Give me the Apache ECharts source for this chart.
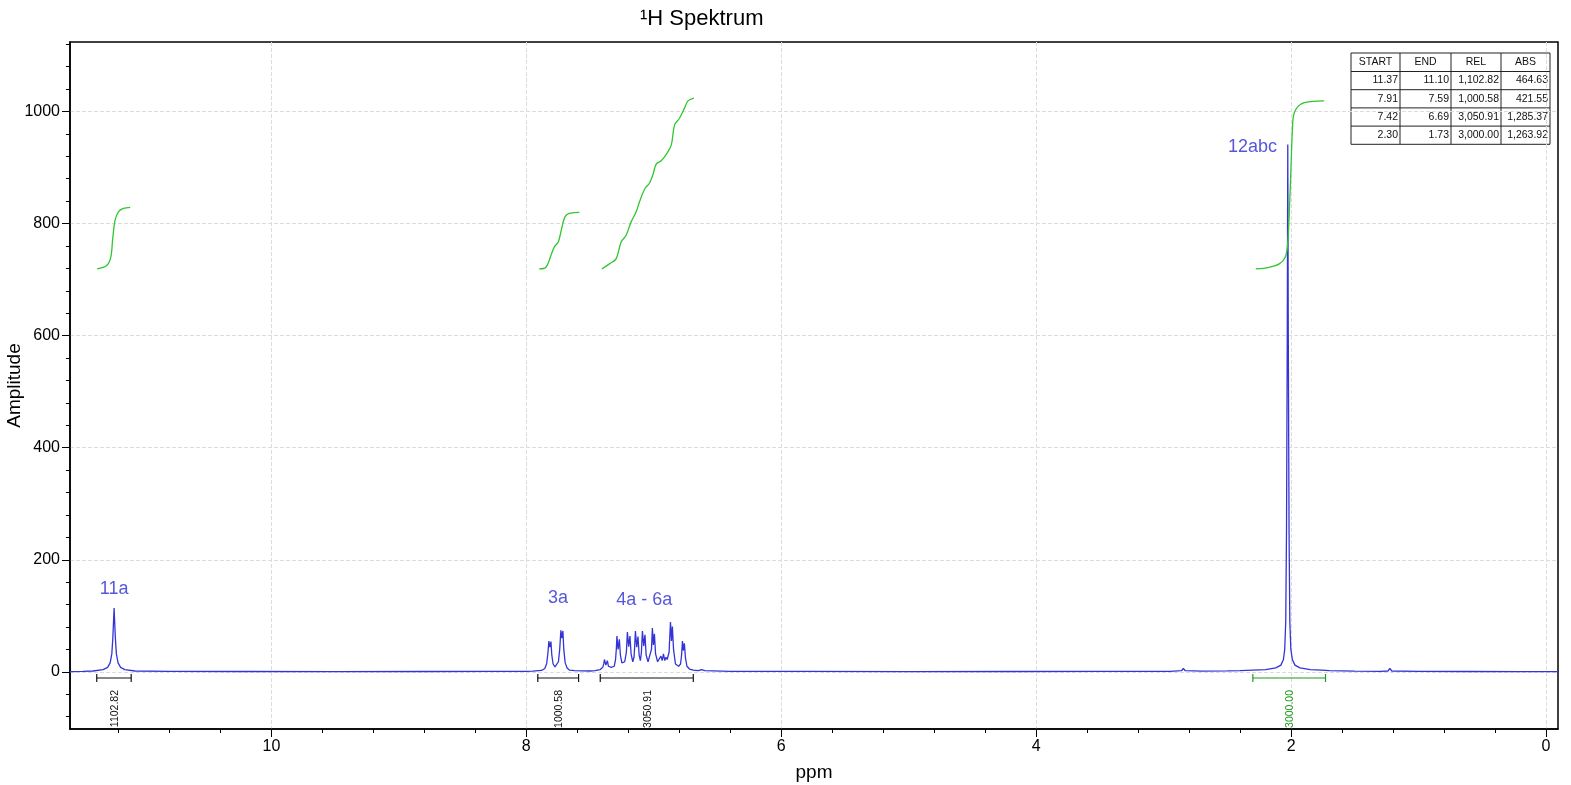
<!DOCTYPE html>
<html>
<head>
<meta charset="utf-8">
<script src="https://cdn.jsdelivr.net/npm/echarts@6/dist/echarts.min.js"></script>
<style>
html,body{margin:0;padding:0;background:#fff;}
#chart{width:1571px;height:785px;}
</style>
</head>
<body>
<div id="chart"></div>
<script>
// ---------------- DATA ----------------
const chartTitle = '\u00B9H Spektrum';
const xName = 'ppm';
const yName = 'Amplitude';

const xTickLabels = [0, 2, 4, 6, 8, 10];
const xMinorTicks = [0, 0.4, 0.8, 1.2, 1.6, 2, 2.4, 2.8, 3.2, 3.6, 4, 4.4, 4.8, 5.2, 5.6, 6, 6.4, 6.8, 7.2, 7.6, 8, 8.4, 8.8, 9.2, 9.6, 10, 10.4, 10.8, 11.2];
const yTickLabels = [0, 200, 400, 600, 800, 1000];
const yMinorTicks = [-80, -40, 0, 40, 80, 120, 160, 200, 240, 280, 320, 360, 400, 440, 480, 520, 560, 600, 640, 680, 720, 760, 800, 840, 880, 920, 960, 1000, 1040, 1080, 1120];

// spectrum [ppm, amplitude]
const spectrum = [
  [11.58, 0.5], [11.48, 1], [11.40, 1.5], [11.32, 4], [11.285, 8], [11.265, 16], [11.252, 32], [11.244, 60],
  [11.234, 114], [11.224, 60], [11.216, 32], [11.203, 16], [11.183, 8], [11.15, 4], [11.07, 1.5],
  [10.8, 1], [10.2, 0.6], [9.5, 0.5], [8.8, 0.6], [8.3, 0.8], [8.0, 1],
  [7.95, 1.2], [7.88, 2.5], [7.855, 6], [7.84, 15], [7.83, 35], [7.823, 55], [7.816, 44], [7.807, 54],
  [7.800, 30], [7.79, 14], [7.775, 9], [7.765, 10], [7.748, 18], [7.738, 40], [7.729, 74], [7.721, 60],
  [7.713, 73], [7.706, 40], [7.695, 16], [7.68, 7], [7.66, 3], [7.62, 2], [7.50, 1.5],
  [7.46, 2], [7.42, 4], [7.40, 8], [7.392, 15], [7.387, 22], [7.376, 12], [7.368, 14], [7.364, 20],
  [7.356, 10], [7.335, 8], [7.31, 10], [7.30, 22], [7.294, 40], [7.289, 64], [7.280, 40], [7.270, 58],
  [7.262, 30], [7.250, 16], [7.228, 18], [7.215, 35], [7.207, 71], [7.197, 45], [7.187, 64], [7.178, 32],
  [7.165, 18], [7.155, 26], [7.150, 45], [7.144, 73], [7.134, 44], [7.124, 63], [7.115, 30], [7.105, 20],
  [7.097, 35], [7.089, 73], [7.079, 46], [7.069, 66], [7.060, 30], [7.045, 18], [7.030, 20], [7.018, 40],
  [7.011, 78], [7.003, 48], [6.995, 68], [6.986, 32], [6.970, 18], [6.955, 18], [6.944, 28], [6.934, 20],
  [6.924, 32], [6.914, 20], [6.905, 26], [6.895, 22], [6.880, 35], [6.869, 89], [6.861, 55], [6.854, 81],
  [6.845, 40], [6.830, 14], [6.805, 10], [6.790, 14], [6.782, 30], [6.775, 55], [6.768, 38], [6.760, 51],
  [6.752, 26], [6.740, 10], [6.72, 5], [6.69, 3], [6.65, 2], [6.625, 4], [6.60, 2], [6.4, 1],
  [5.8, 0.7], [5.0, 0.5], [4.2, 0.6], [3.5, 0.8], [2.95, 1], [2.86, 2], [2.845, 6], [2.83, 2],
  [2.70, 1.2], [2.50, 1.6], [2.40, 2], [2.30, 3], [2.20, 4], [2.12, 7], [2.08, 12], [2.06, 22],
  [2.05, 40], [2.042, 90], [2.036, 250], [2.030, 600], [2.026, 941], [2.022, 600], [2.016, 250], [2.010, 90],
  [2.002, 40], [1.99, 22], [1.97, 12], [1.93, 7], [1.85, 4], [1.76, 3], [1.70, 2], [1.50, 1.2],
  [1.30, 1], [1.24, 1.5], [1.225, 6], [1.21, 1.5], [1.0, 0.8], [0.6, 0.6], [0.2, 0.5], [-0.094, 0.5]
];

// integral curves [ppm, value]
const integral11a = [[11.367, 719], [11.292, 725], [11.260, 740], [11.245, 773], [11.226, 806], [11.200, 821], [11.161, 827], [11.108, 829]];
const integral3a = [[7.899, 719], [7.846, 722], [7.807, 743], [7.781, 758], [7.749, 767], [7.723, 791], [7.697, 812], [7.663, 818], [7.584, 820]];
const integral4a6a = [[7.408, 719], [7.348, 728], [7.296, 737], [7.256, 767], [7.217, 779], [7.178, 803], [7.138, 821], [7.112, 839], [7.068, 863], [7.034, 872], [7.007, 887], [6.981, 906], [6.942, 912], [6.903, 923], [6.863, 940], [6.837, 976], [6.798, 988], [6.759, 1006], [6.732, 1019], [6.685, 1024]];
const integral12abc = [[2.277, 719], [2.172, 722], [2.093, 728], [2.046, 740], [2.028, 761], [2.015, 815], [2.002, 893], [1.989, 970], [1.976, 997], [1.924, 1013], [1.832, 1018], [1.740, 1019]];

// integration brackets [start ppm, end ppm, label]
const brackets = [[11.37, 11.10, '1102.82'], [7.91, 7.59, '1000.58'], [7.42, 6.69, '3050.91'], [2.30, 1.73, '3000.00']];

// peak labels [ppm, amplitude, text]
const peakLabels = [[11.234, 148, '11a'], [7.752, 132, '3a'], [7.075, 128, '4a - 6a'], [2.303, 936, '12abc']];

// integration table
const tableHeader = ['START', 'END', 'REL', 'ABS'];
const tableRows = [
  ['11.37', '11.10', '1,102.82', '464.63'],
  ['7.91', '7.59', '1,000.58', '421.55'],
  ['7.42', '6.69', '3,050.91', '1,285.37'],
  ['2.30', '1.73', '3,000.00', '1,263.92']
];

// ---------------- STYLE / LAYOUT ----------------
const FONT = '"Liberation Sans", Arial, sans-serif';
const BLUE = '#3434d6';
const LABEL_BLUE = '#2c2cd4';
const GREEN = '#2fc62f';
const DARK_GREEN = '#1f9a1f';
const BRACKET_LEVEL = -11;

const chart = echarts.init(document.getElementById('chart'), null, {renderer: 'canvas'});

// table graphic
const colX = [1351, 1400, 1451, 1501, 1550];
const rowY = [53, 71.5, 89.7, 107.9, 126.1, 144.3];
const tableChildren = [];
tableChildren.push({type: 'rect', shape: {x: colX[0], y: rowY[0], width: colX[4] - colX[0], height: rowY[5] - rowY[0]}, style: {fill: '#fff', stroke: '#222', lineWidth: 1}});
for (let i = 1; i < colX.length - 1; i++) {
  tableChildren.push({type: 'line', shape: {x1: colX[i], y1: rowY[0], x2: colX[i], y2: rowY[5]}, style: {stroke: '#222', lineWidth: 1}});
}
for (let j = 1; j < rowY.length - 1; j++) {
  tableChildren.push({type: 'line', shape: {x1: colX[0], y1: rowY[j], x2: colX[4], y2: rowY[j]}, style: {stroke: '#222', lineWidth: 1}});
}
tableHeader.forEach((h, i) => {
  tableChildren.push({type: 'text', x: (colX[i] + colX[i + 1]) / 2, y: (rowY[0] + rowY[1]) / 2,
    style: {text: h, fill: '#111', font: '10.5px ' + FONT, textAlign: 'center', textVerticalAlign: 'middle'}});
});
tableRows.forEach((row, j) => {
  row.forEach((v, i) => {
    tableChildren.push({type: 'text', x: colX[i + 1] - 2, y: (rowY[j + 1] + rowY[j + 2]) / 2,
      style: {text: v, fill: '#111', font: '10.5px ' + FONT, textAlign: 'right', textVerticalAlign: 'middle'}});
  });
});

const integralSeries = [integral11a, integral3a, integral4a6a, integral12abc].map(d => ({
  type: 'line', data: d, xAxisIndex: 0, yAxisIndex: 0, showSymbol: false, smooth: 0.35,
  lineStyle: {color: GREEN, width: 1.3}, itemStyle: {color: GREEN}, z: 4, silent: true
}));

const plainNum = v => String(v);

const option = {
  animation: false,
  backgroundColor: '#fff',
  grid: {left: 70, right: 13, top: 42, bottom: 56, outerBoundsMode: 'none', containLabel: false,
    show: true, borderColor: '#000', borderWidth: 1.5, backgroundColor: 'transparent'},
  graphic: [
    {type: 'text', left: 640, top: 8, style: {text: chartTitle, fill: '#000', font: '22px ' + FONT}},
    {type: 'group', children: tableChildren, z: 100}
  ],
  xAxis: [
    {
      type: 'value', min: -0.094, max: 11.58, inverse: true, position: 'bottom',
      name: xName, nameLocation: 'middle', nameGap: 34, nameMoveOverlap: false,
      nameTextStyle: {color: '#000', fontSize: 19, fontFamily: FONT},
      axisLine: {onZero: false, lineStyle: {color: '#000', width: 1.5}},
      axisTick: {customValues: xTickLabels, length: 8, lineStyle: {color: '#000', width: 1}},
      axisLabel: {customValues: xTickLabels, formatter: plainNum, color: '#000', fontSize: 16, fontFamily: FONT, margin: 10},
      splitLine: {show: true, lineStyle: {color: '#dcdcdc', type: 'dashed', width: 1}}
    },
    {
      type: 'value', min: -0.094, max: 11.58, inverse: true, position: 'bottom',
      axisLine: {show: false, onZero: false},
      axisTick: {customValues: xMinorTicks, length: 4, lineStyle: {color: '#000', width: 1}},
      axisLabel: {show: false},
      splitLine: {show: false}
    }
  ],
  yAxis: [
    {
      type: 'value', min: -102, max: 1124, position: 'left',
      name: yName, nameLocation: 'middle', nameGap: 46, nameRotate: 90, nameMoveOverlap: false,
      nameTextStyle: {color: '#000', fontSize: 19, fontFamily: FONT},
      axisLine: {onZero: false, lineStyle: {color: '#000', width: 1.5}},
      axisTick: {customValues: yTickLabels, length: 8, lineStyle: {color: '#000', width: 1}},
      axisLabel: {customValues: yTickLabels, formatter: plainNum, color: '#000', fontSize: 16, fontFamily: FONT, margin: 10},
      splitLine: {show: true, lineStyle: {color: '#dcdcdc', type: 'dashed', width: 1}}
    },
    {
      type: 'value', min: -102, max: 1124, position: 'left',
      axisLine: {show: false, onZero: false},
      axisTick: {customValues: yMinorTicks, length: 4, lineStyle: {color: '#000', width: 1}},
      axisLabel: {show: false},
      splitLine: {show: false}
    }
  ],
  series: [
    {
      type: 'line', data: spectrum, xAxisIndex: 0, yAxisIndex: 0, showSymbol: false, smooth: false,
      lineStyle: {color: BLUE, width: 1.3}, itemStyle: {color: BLUE}, z: 3, silent: true, clip: true
    },
    ...integralSeries,
    {
      type: 'custom', xAxisIndex: 0, yAxisIndex: 0, data: brackets, z: 5, silent: true,
      renderItem: function (params, api) {
        const s = api.coord([api.value(0), BRACKET_LEVEL]);
        const e = api.coord([api.value(1), BRACKET_LEVEL]);
        const c = params.dataIndex === 3 ? DARK_GREEN : '#111';
        const label = brackets[params.dataIndex][2];
        const ls = {stroke: c, lineWidth: 1.2};
        return {type: 'group', children: [
          {type: 'line', shape: {x1: s[0], y1: s[1], x2: e[0], y2: e[1]}, style: ls},
          {type: 'line', shape: {x1: s[0], y1: s[1] - 4, x2: s[0], y2: s[1] + 4}, style: ls},
          {type: 'line', shape: {x1: e[0], y1: e[1] - 4, x2: e[0], y2: e[1] + 4}, style: ls},
          {type: 'text', x: (s[0] + e[0]) / 2 + 1, y: s[1] + 12, rotation: Math.PI / 2,
            style: {text: label, fill: c, font: '10.5px ' + FONT, textAlign: 'right', textVerticalAlign: 'middle'}}
        ]};
      }
    },
    {
      type: 'scatter', xAxisIndex: 0, yAxisIndex: 0, data: peakLabels, symbolSize: 1,
      itemStyle: {color: 'rgba(0,0,0,0)'}, z: 6, silent: true,
      label: {show: true, position: 'inside', formatter: p => p.data[2], color: LABEL_BLUE, fontSize: 18, fontFamily: FONT}
    }
  ]
};
chart.setOption(option);
</script>
</body>
</html>
